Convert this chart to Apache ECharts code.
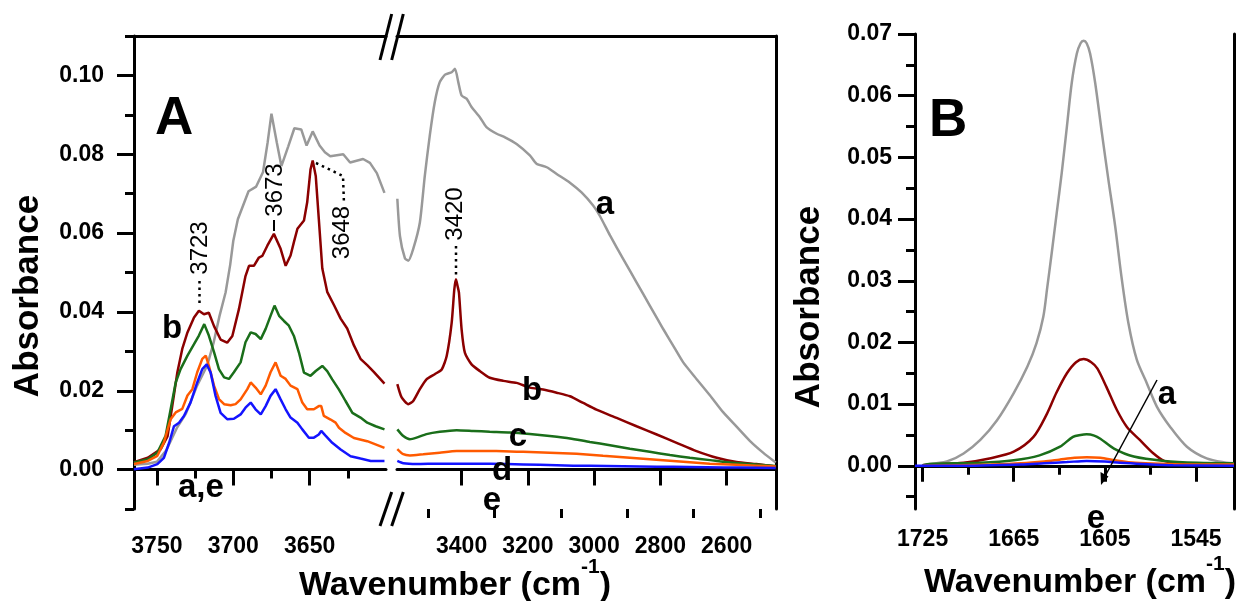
<!DOCTYPE html>
<html lang="en">
<head>
<meta charset="UTF-8">
<title>IR spectra</title>
<script src="https://cdn.jsdelivr.net/npm/echarts@6.0.0/dist/echarts.min.js"></script>
<style>
  html, body { margin: 0; padding: 0; background: #fff; }
  #main { width: 1242px; height: 601px; }
</style>
</head>
<body>
<div id="main"></div>
<script>
// ---- data: [wavenumber, absorbance] ----
// panel A, left part (3765-3600)
var aLeft = [[3765,0.0012],[3756,0.0015],[3750,0.002],[3744,0.0048],[3737,0.0105],[3731,0.0142],[3724,0.021],[3717,0.0265],[3713,0.032],[3709,0.039],[3705,0.045],[3702,0.052],[3700,0.058],[3697,0.0635],[3690,0.0706],[3685,0.0718],[3680.5,0.0755],[3677.5,0.083],[3675,0.0903],[3671.5,0.083],[3668.5,0.077],[3664,0.082],[3660,0.0866],[3655.5,0.0863],[3652,0.0822],[3648,0.0858],[3643.5,0.0822],[3640,0.0805],[3636.5,0.0795],[3628,0.08],[3623.5,0.0779],[3615,0.0788],[3610.5,0.0778],[3606,0.0752],[3601,0.0702]];
var bLeft = [[3765,0.0019],[3756,0.003],[3747.5,0.0052],[3743,0.0085],[3740,0.016],[3736.6,0.0247],[3733.4,0.0306],[3730,0.0348],[3725.7,0.0386],[3722.5,0.0403],[3719.2,0.0394],[3716,0.0398],[3712.6,0.0364],[3708.3,0.033],[3704,0.0322],[3700.6,0.0339],[3696.3,0.0407],[3692,0.0491],[3689.7,0.0517],[3686.5,0.0517],[3683.2,0.0538],[3681,0.0542],[3677.7,0.0568],[3673.4,0.0598],[3669,0.056],[3665.7,0.0517],[3662.5,0.0543],[3660.3,0.0577],[3658,0.0611],[3653.7,0.0632],[3651.6,0.0678],[3649.4,0.0762],[3648,0.0784],[3646,0.0745],[3644,0.0636],[3641.7,0.051],[3638.5,0.0451],[3634,0.0417],[3629.7,0.0383],[3625.4,0.0358],[3621,0.0315],[3616.7,0.0281],[3612.3,0.0265],[3608,0.0248],[3601,0.0218]];
var cLeft = [[3765,0.0018],[3756,0.0026],[3749.7,0.0043],[3744.3,0.0086],[3741,0.0153],[3737.7,0.0221],[3734.5,0.0255],[3730,0.0289],[3725.7,0.0318],[3722.5,0.034],[3719,0.0369],[3716,0.034],[3712.6,0.0298],[3709.4,0.0255],[3706,0.0234],[3702.8,0.023],[3699.6,0.0247],[3695.2,0.0272],[3692,0.0323],[3688.6,0.0348],[3685.4,0.0344],[3682,0.0331],[3678.8,0.0357],[3675.6,0.039],[3673,0.0416],[3670,0.039],[3666.8,0.0377],[3663.6,0.0365],[3660.3,0.0339],[3657,0.0297],[3653.7,0.0246],[3649.4,0.0238],[3646,0.025],[3641.7,0.0263],[3638.5,0.025],[3635.2,0.0229],[3630.8,0.0203],[3626.5,0.0174],[3622,0.0144],[3616.7,0.0132],[3612.3,0.0119],[3606.8,0.011],[3601,0.0102]];
var dLeft = [[3765,0.0014],[3756,0.0022],[3749.7,0.0035],[3745.4,0.0069],[3741,0.0128],[3737.7,0.0145],[3733.4,0.0154],[3730,0.0188],[3726.8,0.0204],[3723.6,0.0247],[3720.3,0.0281],[3718,0.0289],[3716,0.0264],[3712.6,0.0213],[3709.4,0.0179],[3706,0.0166],[3701.7,0.0163],[3698.5,0.0166],[3695.2,0.0178],[3690.8,0.0204],[3688.6,0.0221],[3685.4,0.0208],[3682,0.0191],[3678.8,0.0213],[3675.6,0.0247],[3672.3,0.0272],[3669,0.0238],[3665.7,0.023],[3662.5,0.0213],[3658,0.0204],[3654.8,0.017],[3651.6,0.0153],[3647.2,0.0153],[3644,0.0161],[3642.4,0.0161],[3640.7,0.0136],[3636.3,0.0127],[3633,0.0119],[3630.8,0.0106],[3626.5,0.0093],[3621,0.008],[3612.3,0.0072],[3601,0.0055]];
var eLeft = [[3765,0.0001],[3756,0.0005],[3749.7,0.0014],[3745.4,0.003],[3742,0.0068],[3738.8,0.011],[3735.5,0.0119],[3732.3,0.0136],[3728,0.017],[3723.6,0.0221],[3720.3,0.0255],[3717.4,0.0267],[3714.8,0.0246],[3711.6,0.0187],[3708.3,0.0144],[3704,0.0128],[3699.6,0.0129],[3695.2,0.014],[3692,0.0157],[3688.6,0.017],[3685.4,0.0153],[3682,0.014],[3678.8,0.0161],[3675.6,0.0187],[3672.3,0.0204],[3669,0.0178],[3665.7,0.0153],[3662.5,0.0132],[3658,0.0119],[3654.8,0.0102],[3650.5,0.0081],[3647.2,0.0081],[3644,0.0089],[3642.4,0.0098],[3639.6,0.0086],[3635.2,0.0068],[3629.7,0.0051],[3623.2,0.0034],[3616.7,0.0028],[3610,0.0022],[3601,0.0022]];

// panel A, right part (3595-2451)
var aRight = [[3594,0.0687],[3586,0.0592],[3571,0.0536],[3561,0.053],[3546,0.056],[3526,0.0627],[3511,0.0746],[3496,0.0848],[3481,0.0932],[3466,0.0983],[3450,0.1002],[3430,0.1008],[3420,0.1017],[3410,0.0983],[3400,0.0949],[3385,0.0941],[3370,0.092],[3345,0.0894],[3325,0.0869],[3294,0.0852],[3269,0.0843],[3234,0.0826],[3194,0.0797],[3174,0.0776],[3143,0.0767],[3113,0.075],[3073,0.0728],[3038,0.0703],[3003,0.067],[2983,0.0644],[2952,0.0594],[2912,0.0534],[2872,0.0475],[2832,0.0416],[2791,0.0356],[2761,0.0314],[2731,0.0272],[2691,0.023],[2650,0.0188],[2610,0.0145],[2570,0.0109],[2530,0.0073],[2490,0.0043],[2452,0.0018]];
var bRight = [[3594,0.0217],[3581,0.0183],[3561,0.0166],[3546,0.0174],[3526,0.0204],[3506,0.0229],[3481,0.0242],[3460,0.0254],[3445,0.0288],[3430,0.0372],[3422,0.0457],[3417,0.0483],[3412,0.0465],[3408,0.0449],[3400,0.0356],[3390,0.0296],[3370,0.0267],[3345,0.025],[3315,0.0233],[3274,0.0225],[3234,0.022],[3194,0.0208],[3154,0.0203],[3113,0.0195],[3073,0.0186],[3033,0.0169],[2993,0.0152],[2932,0.0131],[2872,0.011],[2811,0.0089],[2751,0.0068],[2691,0.0047],[2630,0.003],[2570,0.0019],[2510,0.0014],[2452,0.0008]];
var cRight = [[3594,0.0102],[3576,0.0085],[3556,0.0077],[3536,0.0081],[3506,0.009],[3466,0.0096],[3415,0.01],[3365,0.0098],[3315,0.0096],[3254,0.0094],[3194,0.009],[3134,0.0085],[3073,0.0079],[3013,0.007],[2952,0.0062],[2892,0.0053],[2832,0.0045],[2771,0.0037],[2711,0.003],[2650,0.0024],[2590,0.0018],[2530,0.0014],[2452,0.0009]];
var dRight = [[3594,0.0052],[3576,0.0039],[3556,0.0036],[3516,0.0039],[3466,0.0043],[3415,0.0047],[3355,0.0047],[3295,0.0047],[3214,0.0045],[3134,0.0043],[3053,0.004],[2973,0.0035],[2892,0.003],[2812,0.0025],[2731,0.002],[2651,0.0015],[2570,0.0012],[2510,0.001],[2452,0.0008]];
var eRight = [[3594,0.0022],[3576,0.0016],[3536,0.0014],[3466,0.0015],[3365,0.0015],[3264,0.0014],[3164,0.0012],[3063,0.001],[2962,0.0009],[2862,0.0008],[2761,0.0007],[2661,0.0006],[2560,0.0005],[2452,0.0004]];

// panel B (1730-1520)
var aB = [[1721,0.0003],[1709,0.0007],[1698,0.002],[1687,0.0042],[1676,0.0074],[1665,0.0118],[1656,0.0161],[1650,0.0199],[1645.5,0.0242],[1643,0.0288],[1640,0.0345],[1636.7,0.041],[1633.4,0.0475],[1630,0.055],[1626.8,0.0621],[1623.5,0.0668],[1621,0.0685],[1619,0.0689],[1617,0.0685],[1614.7,0.0668],[1611.4,0.0621],[1607,0.054],[1602.7,0.0464],[1598.2,0.0388],[1594,0.0305],[1589.5,0.0231],[1584,0.0172],[1577.4,0.0134],[1570.8,0.0096],[1562,0.0063],[1551,0.0031],[1538,0.0012],[1525,0.0005],[1520,0.0004]];
var bB = [[1725,0.0001],[1720,0.0002],[1698,0.0005],[1681,0.0012],[1665,0.0023],[1652,0.0047],[1643,0.0085],[1637,0.0118],[1630,0.015],[1624,0.0168],[1619,0.0173],[1614,0.0168],[1610,0.0158],[1604,0.0128],[1597,0.009],[1590.5,0.0063],[1582,0.0042],[1573,0.002],[1566,0.0008],[1555,0.0004],[1533,0.0002],[1520,0.0002]];
var cB = [[1725,0.0001],[1720,0.0003],[1687,0.0005],[1665,0.0009],[1648,0.0017],[1634.5,0.0031],[1626,0.0047],[1621,0.005],[1617,0.0051],[1612,0.0049],[1608,0.0044],[1599,0.0028],[1586,0.0015],[1566,0.0008],[1544,0.0005],[1520,0.0004]];
var dB = [[1725,0.0],[1700,0.0001],[1680,0.0002],[1660,0.0004],[1645,0.0007],[1635,0.001],[1625,0.0013],[1617,0.0014],[1608,0.0013],[1598,0.0009],[1585,0.0005],[1565,0.0003],[1545,0.0002],[1520,0.0002]];
var eB = [[1730,0.0],[1700,0.0],[1680,0.0001],[1660,0.0002],[1645,0.0004],[1630,0.0006],[1617,0.0008],[1605,0.0007],[1595,0.0005],[1580,0.0003],[1560,0.0001],[1520,0.0]];

// ticks
var ticksAL = [3750, 3700, 3650];
var minorAL = [3725, 3675, 3625];
var ticksAR = [3400, 3200, 3000, 2800, 2600];
var minorAR = [3500, 3300, 3100, 2900, 2700, 2500];
var ticksB = [1725, 1665, 1605, 1545];
var minorB = [1695, 1635, 1575];
var yTicksA = [0, 0.02, 0.04, 0.06, 0.08, 0.10];
var yMinorA = [-0.01, 0.01, 0.03, 0.05, 0.07, 0.09, 0.11];
var yTicksB = [0, 0.01, 0.02, 0.03, 0.04, 0.05, 0.06, 0.07];
var yMinorB = [-0.005, 0.005, 0.015, 0.025, 0.035, 0.045, 0.055, 0.065];

var colors = ['#999999', '#8b0000', '#1a6e1a', '#ff5a00', '#1414ff'];
var FONT = '"Liberation Sans", Arial, sans-serif';
var LW = 3;

var chart = echarts.init(document.getElementById('main'));

// one axis: major ticks+labels, minor ticks only, or bare frame line
function xAx(grid, min, max, kind, vals, margin) {
    var ax = {
        type: 'value', gridIndex: grid, min: min, max: max, inverse: true,
        position: kind === 'top' ? 'top' : 'bottom',
        splitLine: { show: false },
        axisLine: { show: kind !== 'minor', lineStyle: { color: '#000', width: LW } },
        axisTick: { show: false },
        axisLabel: { show: false }
    };
    if (kind === 'major' || kind === 'minor') {
        ax.axisTick = { show: true, customValues: vals, length: kind === 'major' ? 16 : 9,
            lineStyle: { color: '#000', width: LW } };
    }
    if (kind === 'major') {
        ax.axisLabel = { show: true, customValues: vals, margin: margin, color: '#000',
            fontFamily: FONT, fontWeight: 'bold', fontSize: 23,
            formatter: function (v) { return String(v); } };
    }
    return ax;
}
function yAx(grid, min, max, kind, vals, margin) {
    var ax = {
        type: 'value', gridIndex: grid, min: min, max: max,
        position: kind === 'right' ? 'right' : 'left',
        splitLine: { show: false },
        axisLine: { show: kind !== 'minor', lineStyle: { color: '#000', width: LW } },
        axisTick: { show: false },
        axisLabel: { show: false }
    };
    if (kind === 'major' || kind === 'minor') {
        ax.axisTick = { show: true, customValues: vals, length: kind === 'major' ? 17 : 9,
            lineStyle: { color: '#000', width: LW } };
    }
    if (kind === 'major') {
        ax.axisLabel = { show: true, customValues: vals, margin: margin, color: '#000',
            fontFamily: FONT, fontWeight: 'bold', fontSize: 23,
            formatter: function (v) { return v.toFixed(2); } };
    }
    return ax;
}

function line(data, color, xi, yi, smooth) {
    return { type: 'line', data: data, xAxisIndex: xi, yAxisIndex: yi, showSymbol: false,
        smooth: smooth || false,
        lineStyle: { color: color, width: 2.5 }, silent: true };
}

function txt(str, x, y, size, opts) {
    opts = opts || {};
    return { type: 'text', x: x, y: y, rotation: opts.rot || 0, z: 100,
        style: { text: str, x: 0, y: 0, fill: '#000', align: opts.align || 'center',
            verticalAlign: opts.va || 'alphabetic',
            font: (opts.weight || 'bold') + ' ' + size + 'px ' + FONT } };
}
function seg(pts, dash, w) {
    return { type: 'polyline', z: 100, shape: { points: pts },
        style: { stroke: '#000', lineWidth: w || 2.5, lineDash: dash || null, fill: null } };
}
var titleRich = {
    m: { fontFamily: FONT, fontWeight: 'bold', fontSize: 34, lineHeight: 46, verticalAlign: 'bottom' },
    s: { fontFamily: FONT, fontWeight: 'bold', fontSize: 21, lineHeight: 21, verticalAlign: 'top' }
};
function axTitle(x, y) {
    return { type: 'text', x: x, y: y, z: 100,
        style: { text: '{m|Wavenumber (cm}{s|-1}{m|)}', rich: titleRich, align: 'center',
            verticalAlign: 'middle', fill: '#000' } };
}
var dots = [2.5, 4];

var option = {
    animation: false,
    backgroundColor: '#fff',
    grid: [
        { left: 134, top: 36, width: 252, height: 473 },
        { left: 397, top: 36, width: 379, height: 473 },
        { left: 915, top: 34, width: 319, height: 475 }
    ],
    xAxis: [
        xAx(0, 3600, 3765, 'major', ticksAL, 26),
        xAx(0, 3600, 3765, 'minor', minorAL),
        xAx(0, 3600, 3765, 'top'),
        xAx(1, 2451, 3595, 'major', ticksAR, 26),
        xAx(1, 2451, 3595, 'minor', minorAR),
        xAx(1, 2451, 3595, 'top'),
        xAx(2, 1520, 1730, 'major', ticksB, 19),
        xAx(2, 1520, 1730, 'minor', minorB),
        xAx(2, 1520, 1730, 'top')
    ],
    yAxis: [
        yAx(0, -0.01, 0.11, 'major', yTicksA, 30),
        yAx(0, -0.01, 0.11, 'minor', yMinorA),
        yAx(1, -0.01, 0.11, 'right'),
        yAx(2, -0.007, 0.07, 'major', yTicksB, 23),
        yAx(2, -0.007, 0.07, 'minor', yMinorB),
        yAx(2, -0.007, 0.07, 'right')
    ],
    series: [
        line(aLeft, colors[0], 0, 0), line(bLeft, colors[1], 0, 0), line(cLeft, colors[2], 0, 0),
        line(dLeft, colors[3], 0, 0), line(eLeft, colors[4], 0, 0),
        line(aRight, colors[0], 3, 2, 0.2), line(bRight, colors[1], 3, 2, 0.2), line(cRight, colors[2], 3, 2, 0.2),
        line(dRight, colors[3], 3, 2, 0.2), line(eRight, colors[4], 3, 2, 0.2),
        line(aB, colors[0], 6, 3, 0.3), line(bB, colors[1], 6, 3, 0.3), line(cB, colors[2], 6, 3, 0.3),
        line(dB, colors[3], 6, 3, 0.3), line(eB, colors[4], 6, 3, 0.3)
    ],
    graphic: [
        // axis break marks
        seg([[391.7, 14], [380, 60]], null, 3), seg([[403.3, 14], [391.7, 60]], null, 3),
        seg([[391.7, 492], [380, 526]], null, 3), seg([[403.3, 492], [391.7, 526]], null, 3),
        // panel letters
        txt('A', 155, 93, 53, { align: 'left' }),
        txt('B', 929, 95, 53, { align: 'left' }),
        // axis titles
        txt('Absorbance', 28, 296, 35, { rot: Math.PI / 2, va: 'middle' }),
        txt('Absorbance', 809, 307, 35, { rot: Math.PI / 2, va: 'middle' }),
        axTitle(455, 580),
        axTitle(1080, 577),
        // curve letters
        txt('a', 605, 188, 33), txt('b', 532, 374, 33), txt('c', 518, 420, 33),
        txt('d', 502, 454, 33), txt('e', 492, 484, 33),
        txt('b', 172, 312, 33), txt('a,e', 178, 471, 33, { align: 'left' }),
        txt('a', 1167, 378, 33), txt('e', 1096, 502, 33),
        // peak annotations
        txt('3723', 200, 248, 24, { rot: Math.PI / 2, va: 'middle', weight: 'normal' }),
        seg([[199.5, 281], [199.5, 307]], dots),
        txt('3673', 275, 190, 24, { rot: Math.PI / 2, va: 'middle', weight: 'normal' }),
        seg([[274, 220], [274, 231]], null, 2),
        txt('3648', 342.5, 232.5, 24, { rot: Math.PI / 2, va: 'middle', weight: 'normal' }),
        seg([[316, 163], [343, 176], [344, 204]], dots),
        txt('3420', 455, 214, 24, { rot: Math.PI / 2, va: 'middle', weight: 'normal' }),
        seg([[456, 246], [456, 278]], dots),
        // arrow a -> e in panel B
        seg([[1157, 380], [1103, 480]], null, 1.5),
        { type: 'polygon', z: 100, shape: { points: [[1101, 485], [1100.5, 472], [1108.5, 476.5]] },
          style: { fill: '#000' } }
    ]
};
chart.setOption(option);
</script>
</body>
</html>
